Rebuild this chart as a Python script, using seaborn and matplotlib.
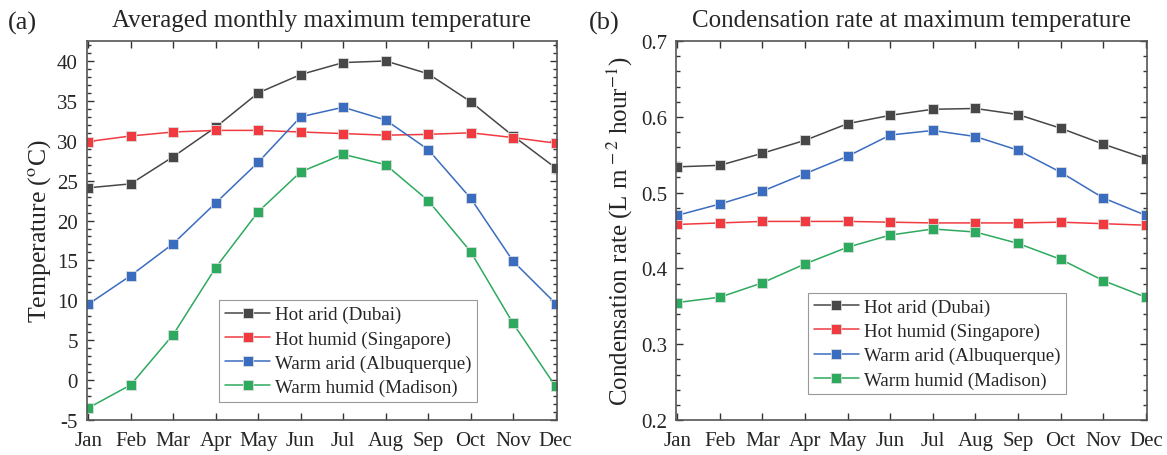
import numpy as np
import pandas as pd
import matplotlib
matplotlib.use("Agg")
import matplotlib.pyplot as plt
from matplotlib.ticker import MultipleLocator
import seaborn as sns

months = ["Jan", "Feb", "Mar", "Apr", "May", "Jun", "Jul", "Aug", "Sep", "Oct", "Nov", "Dec"]
series = ["Hot arid (Dubai)", "Hot humid (Singapore)", "Warm arid (Albuquerque)", "Warm humid (Madison)"]

temp_dubai = [24.1, 24.6, 28.0, 31.7, 36.0, 38.3, 39.8, 40.0, 38.4, 34.9, 30.6, 26.6]
temp_singapore = [29.9, 30.6, 31.1, 31.3, 31.3, 31.1, 30.9, 30.7, 30.8, 31.0, 30.4, 29.7]
temp_albuquerque = [9.5, 13.1, 17.1, 22.2, 27.3, 33.0, 34.2, 32.6, 28.9, 22.8, 14.9, 9.6]
temp_madison = [-3.5, -0.6, 5.7, 14.1, 21.1, 26.1, 28.3, 27.0, 22.5, 16.1, 7.1, -0.8]

cond_dubai = [0.534, 0.536, 0.552, 0.569, 0.591, 0.602, 0.610, 0.611, 0.603, 0.585, 0.564, 0.545]
cond_singapore = [0.458, 0.460, 0.462, 0.462, 0.462, 0.461, 0.460, 0.460, 0.460, 0.461, 0.459, 0.457]
cond_albuquerque = [0.470, 0.485, 0.502, 0.525, 0.548, 0.576, 0.582, 0.574, 0.556, 0.527, 0.493, 0.470]
cond_madison = [0.355, 0.362, 0.381, 0.406, 0.428, 0.444, 0.452, 0.448, 0.433, 0.412, 0.384, 0.362]

colors = ["#474747", "#f03a40", "#3a6cc0", "#2eaa5e"]

def to_long(vals_list):
    rows = []
    for name, vals in zip(series, vals_list):
        for i, v in enumerate(vals):
            rows.append({"month": i + 1, "value": v, "series": name})
    return pd.DataFrame(rows)

df_t = to_long([temp_dubai, temp_singapore, temp_albuquerque, temp_madison])
df_c = to_long([cond_dubai, cond_singapore, cond_albuquerque, cond_madison])

sns.set_style("ticks")
plt.rcParams["font.family"] = ["Liberation Serif", "DejaVu Serif"]
plt.rcParams["mathtext.fontset"] = "stix"
plt.rcParams["axes.unicode_minus"] = False

fig = plt.figure(figsize=(11.67, 4.56), dpi=100)
ax1 = fig.add_axes([0.0745, 0.0768, 0.4027, 0.831])
ax2 = fig.add_axes([0.5793, 0.0768, 0.4036, 0.831])

palette = dict(zip(series, colors))

for ax, df in [(ax1, df_t), (ax2, df_c)]:
    sns.lineplot(data=df, x="month", y="value", hue="series", hue_order=series,
                 palette=palette, marker="s", markersize=7, markeredgewidth=0.6,
                 markeredgecolor="#dddddd", linewidth=1.1, ax=ax)
    ax.set_xlim(0.97, 12.03)
    ax.set_xticks(range(1, 13))
    ax.set_xticklabels(months)
    ax.set_xlabel("")
    ax.tick_params(axis="both", which="both", direction="in", top=True, right=True,
                   color="#333333")
    ax.tick_params(axis="x", which="major", labelsize=15, pad=8)
    ax.tick_params(axis="y", which="major", labelsize=15, pad=6.5)
    ax.tick_params(axis="both", which="major", length=5, width=1)
    ax.tick_params(axis="y", which="minor", length=2.7, width=1)
    for s in ax.spines.values():
        s.set_color("#555555")
        s.set_linewidth(1.2)
    leg = ax.get_legend()
    if leg is not None:
        leg.remove()

ax1.set_ylim(-5, 42.5)
ax1.yaxis.set_major_locator(MultipleLocator(5))
ax1.yaxis.set_minor_locator(MultipleLocator(1))
ax1.set_ylabel("Temperature ($^{\\mathrm{o}}$C)", fontsize=18.5, labelpad=3)
ax1.set_title("Averaged monthly maximum temperature", fontsize=18, pad=11)

ax2.set_ylim(0.2, 0.7)
ax2.yaxis.set_major_locator(MultipleLocator(0.1))
ax2.yaxis.set_minor_locator(MultipleLocator(0.02))
ax2.set_ylabel("Condensation rate (L m$^{\\,-2}$ hour$^{-1}$)", fontsize=18, labelpad=4)
ax2.set_title("Condensation rate at maximum temperature", fontsize=18, pad=11)

for ax, loc in [(ax1, (0.281, 0.048)), (ax2, (0.280, 0.068))]:
    handles, labels = ax.get_legend_handles_labels()
    lg = ax.legend(handles, labels, loc="lower left", bbox_to_anchor=loc, fontsize=13.7,
                   frameon=True, fancybox=False, edgecolor="#999999", framealpha=1,
                   handlelength=2.4, borderpad=0.3, labelspacing=0.36, handletextpad=0.25,
                   borderaxespad=0)
    lg.get_frame().set_linewidth(0.8)

fig.text(0.007, 0.935, "(a)", fontsize=19)
fig.text(0.505, 0.935, "(b)", fontsize=19)

fig.savefig("out.png", dpi=100)
